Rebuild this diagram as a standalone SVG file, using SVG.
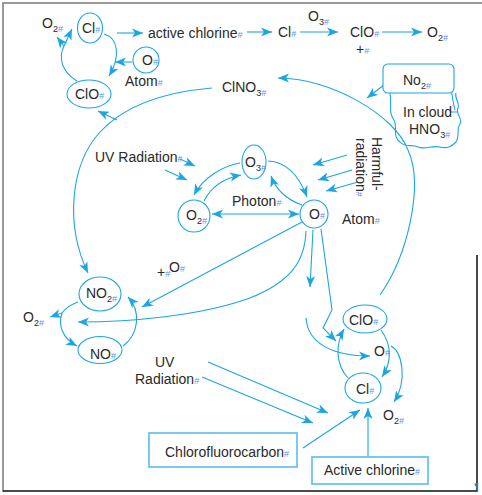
<svg xmlns="http://www.w3.org/2000/svg" width="482" height="495" viewBox="0 0 482 495">
<defs>
<marker id="ah" markerUnits="userSpaceOnUse" markerWidth="12" markerHeight="10" refX="11" refY="4.5" orient="auto-start-reverse" viewBox="0 0 12 9">
<path d="M0,0 L11,4.5 L0,9 L3,4.5 Z" fill="#1ba6e2"/>
</marker>
<style>
text{font-family:"Liberation Sans",Arial,sans-serif;font-size:14px;fill:#2a2a2a}
.m{font-size:9px;fill:#5f8ff0}
.s{font-size:9px}
.ln{fill:none;stroke:#1ba6e2;stroke-width:1.1}
.a{marker-end:url(#ah)}
.nd{fill:#fff;stroke:#1ba6e2;stroke-width:1.1}
.bx{fill:#fff;stroke:#6cc4ee;stroke-width:1.8}
</style>
</defs>
<rect width="482" height="495" fill="#fff"/>
<g id="frame">
<path d="M3,492 V3 H482" fill="none" stroke="#9a9a9a" stroke-width="2"/>
<path d="M3,491 H477 V255" fill="none" stroke="#111" stroke-width="1.5"/>
<text x="474" y="489" style="font-size:9px;fill:#3b8fe0">¶</text>
</g>
<g id="connectors">
<path class="ln a" d="M117,33 L143,33"/>
<path class="ln a" d="M247,32 L272,32"/>
<path class="ln a" d="M300,32 L338,32"/>
<path class="ln a" d="M382,32 L422,32"/>
<path class="ln a" d="M104,34 C118,38 121,56 109,76"/>
<path class="ln a" d="M132,62 L115,62"/>
<path class="ln" d="M77,81 C62,72 58,58 64,46"/>
<path class="ln a" d="M64,46 L72,29"/>
<path class="ln a" d="M64,46 L57,37"/>
<path class="ln a" d="M212,88 C165,92 125,105 100,132 C70,165 65,225 88,273"/>
<path class="ln a" d="M117,120 L98,111"/>
<path class="ln a" d="M380,295 C408,255 424,185 408,150 C395,115 330,78 278,78"/>
<path class="ln a" d="M384,85 L367,98"/>
<path class="ln a" d="M455,110 C452,100 452,88 449,82 L439,77"/>
<path class="ln a" d="M180,159 L195,166"/>
<path class="ln a" d="M165,170 L187,180"/>
<path class="ln a" d="M240,163 C222,166 203,178 194,195"/>
<path class="ln a" d="M204,201 C212,185 225,178 241,175"/>
<path class="ln a" d="M212,214 L299,214" style="marker-start:url(#ah)"/>
<path class="ln a" d="M268,161 C288,162 300,178 307,197"/>
<path class="ln a" d="M302,205 C288,200 276,190 271,176"/>
<path class="ln a" d="M347,155 L313,165"/>
<path class="ln a" d="M352,170 L318,180"/>
<path class="ln a" d="M358,182 L326,191"/>
<path class="ln a" d="M302,222 L142,307"/>
<path class="ln a" d="M306,231 C305,262 290,282 250,298 C200,316 130,322 78,322"/>
<path class="ln a" d="M313,230 L310,287"/>
<path class="ln a" d="M321,229 L332,310 L323,328 L336,341"/>
<path class="ln a" d="M306,318 C308,345 335,356 370,356"/>
<path class="ln a" d="M348,378 C336,365 335,345 344,329"/>
<path class="ln a" d="M381,330 C392,345 392,362 382,377"/>
<path class="ln a" d="M391,346 C402,352 408,380 394,402"/>
<path class="ln a" d="M208,362 L328,413"/>
<path class="ln a" d="M202,377 L313,423"/>
<path class="ln a" d="M303,448 L360,410"/>
<path class="ln a" d="M368,457 L368,408"/>
<path class="ln" d="M78,302 C70,305 64,310 62,313"/>
<path class="ln a" d="M62,313 L50,317"/>
<path class="ln a" d="M62,313 C58,325 62,338 77,346"/>
<path class="ln a" d="M123,346 C138,335 142,312 128,297"/>
</g>
<g id="cl-top"><ellipse class="nd" cx="90" cy="28" rx="12.5" ry="15"/><text x="82" y="33">Cl<tspan class="m">#</tspan></text></g>
<g id="o2-topleft"><text x="42" y="28">O<tspan class="s" dy="4">2</tspan><tspan class="m">#</tspan></text></g>
<g id="active-chlorine-top"><text x="148" y="38">active chlorine<tspan class="m">#</tspan></text></g>
<g id="cl-mid"><text x="278" y="37">Cl<tspan class="m">#</tspan></text></g>
<g id="o3-top"><text x="308" y="21">O<tspan class="s" dy="4">3</tspan><tspan class="m">#</tspan></text></g>
<g id="clo-top"><text x="350" y="37">ClO<tspan class="m">#</tspan></text><text x="356" y="54">+<tspan class="m">#</tspan></text></g>
<g id="o2-topright"><text x="427" y="37">O<tspan class="s" dy="4">2</tspan><tspan class="m">#</tspan></text></g>
<g id="o-atom-top"><circle class="nd" cx="146" cy="60" r="13"/><text x="142" y="65">O<tspan class="m">#</tspan></text><text x="125" y="86">Atom<tspan class="m">#</tspan></text></g>
<g id="clo-left"><ellipse class="nd" cx="89" cy="94" rx="22" ry="14"/><text x="75" y="99">ClO<tspan class="m">#</tspan></text></g>
<g id="clno3"><text x="222" y="92">ClNO<tspan class="s" dy="4">3</tspan><tspan class="m">#</tspan></text></g>
<g id="no2-box"><rect x="383" y="64" width="71" height="29" rx="5" fill="#fff" stroke="#1ba6e2" stroke-width="1.1"/><text x="403" y="85">No<tspan class="s" dy="4">2</tspan><tspan class="m">#</tspan></text></g>
<g id="cloud"><path class="ln" d="M390,93 C392,105 388,112 394,120 C398,128 392,136 400,142 C405,148 412,144 418,147 C425,150 432,145 440,147 C448,149 452,146 456,142 C460,136 456,130 460,124 C463,118 455,114 458,108 C460,102 454,98 456,93 M450,112 L457,112"/><text x="403" y="117">In cloud</text><text x="409" y="134">HNO<tspan class="s" dy="4">3</tspan><tspan class="m">#</tspan></text></g>
<g id="uv-top"><text x="95" y="162">UV Radiation<tspan class="m">#</tspan></text></g>
<g id="o3-center"><ellipse class="nd" cx="254" cy="162" rx="12" ry="17"/><text x="245" y="167">O<tspan class="s" dy="4">3</tspan><tspan class="m">#</tspan></text></g>
<g id="o2-center"><circle class="nd" cx="194" cy="216" r="16"/><text x="186" y="220">O<tspan class="s" dy="4">2</tspan><tspan class="m">#</tspan></text></g>
<g id="photon"><text x="232" y="206">Photon<tspan class="m">#</tspan></text></g>
<g id="o-atom-center"><circle class="nd" cx="314" cy="214" r="14"/><text x="309" y="219">O<tspan class="m">#</tspan></text><text x="342" y="224">Atom<tspan class="m">#</tspan></text></g>
<g id="harmful"><text transform="translate(372,137) rotate(90)">Harmful-</text><text transform="translate(356,138) rotate(90)">radiation<tspan class="m">#</tspan></text></g>
<g id="clo-right"><ellipse class="nd" cx="365" cy="319" rx="22" ry="14"/><text x="349" y="325">ClO<tspan class="m">#</tspan></text></g>
<g id="o-right"><text x="374" y="356">O<tspan class="m">#</tspan></text></g>
<g id="cl-right"><ellipse class="nd" cx="363" cy="388" rx="18" ry="15"/><text x="356" y="394">Cl<tspan class="m">#</tspan></text></g>
<g id="o2-right"><text x="383" y="420">O<tspan class="s" dy="4">2</tspan><tspan class="m">#</tspan></text></g>
<g id="no2"><ellipse class="nd" cx="100" cy="294" rx="21" ry="17"/><text x="86" y="298">NO<tspan class="s" dy="4">2</tspan><tspan class="m">#</tspan></text></g>
<g id="no"><ellipse class="nd" cx="100" cy="350" rx="22" ry="13.5"/><text x="90" y="359">NO<tspan class="m">#</tspan></text></g>
<g id="o2-left"><text x="23" y="322">O<tspan class="s" dy="4">2</tspan><tspan class="m">#</tspan></text></g>
<g id="plus-o"><text x="157" y="277">+<tspan class="m">#</tspan></text><text x="169" y="272">O<tspan class="m">#</tspan></text></g>
<g id="uv-bottom"><text x="155" y="367">UV</text><text x="135" y="384">Radiation<tspan class="m">#</tspan></text></g>
<g id="cfc"><rect class="bx" x="149" y="433" width="148" height="34"/><text x="165" y="457">Chlorofluorocarbon<tspan class="m">#</tspan></text></g>
<g id="active-chlorine-box"><rect class="bx" x="312" y="457" width="116" height="27"/><text x="324" y="475">Active chlorine<tspan class="m">#</tspan></text></g>
</svg>
